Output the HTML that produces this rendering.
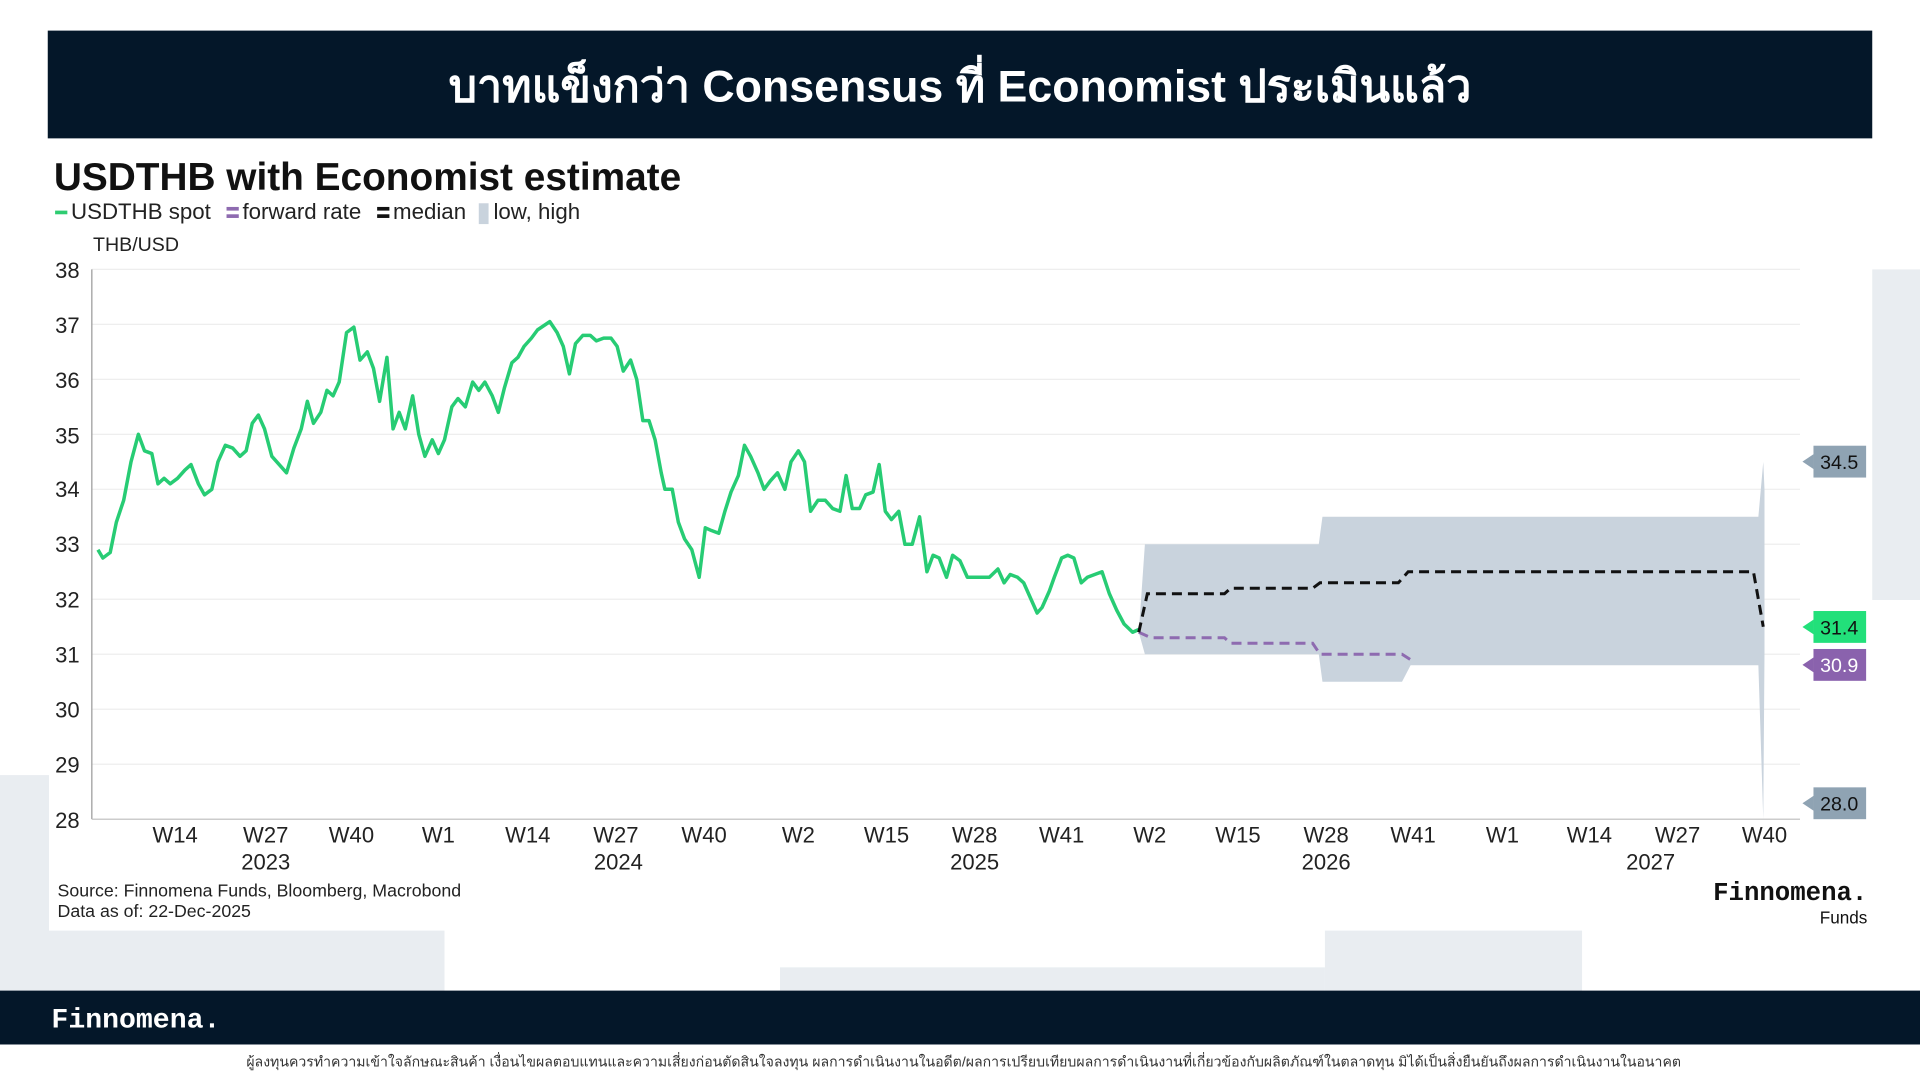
<!DOCTYPE html>
<html><head><meta charset="utf-8"><style>
html,body{margin:0;padding:0;background:#fff;}
svg{display:block;}
text{font-family:"Liberation Sans","Noto Sans CJK SC",sans-serif;}
</style></head><body>
<svg width="1920" height="1080" viewBox="0 0 1568 882" preserveAspectRatio="none" xmlns="http://www.w3.org/2000/svg">
<rect width="1568" height="882" fill="#fff"/>
<rect x="0" y="633" width="40" height="176" fill="#e9edf1"/>
<rect x="0" y="760" width="363" height="49" fill="#e9edf1"/>
<rect x="637" y="790" width="445" height="19" fill="#e9edf1"/>
<rect x="1082" y="760" width="210" height="49" fill="#e9edf1"/>
<rect x="1529" y="220" width="39" height="270" fill="#e9edf1"/>
<rect x="39" y="25" width="1490" height="88" fill="#041729"/>
<text x="784" y="83" text-anchor="middle" fill="#fff" font-size="36.5" font-weight="bold">บาทแข็งกว่า Consensus ที่ Economist ประเมินแล้ว</text>
<text x="44" y="155" font-size="31.7" font-weight="bold" fill="#111">USDTHB with Economist estimate</text>
<rect x="45" y="172" width="10" height="3" fill="#2ecc71"/>
<text x="58" y="179" font-size="18.2" fill="#222">USDTHB spot</text>
<rect x="185" y="169" width="10" height="3" fill="#8e6bb0"/><rect x="185" y="175" width="10" height="3" fill="#8e6bb0"/>
<text x="198" y="179" font-size="18.2" fill="#222">forward rate</text>
<rect x="308" y="169" width="10" height="3" fill="#111"/><rect x="308" y="175" width="10" height="3" fill="#111"/>
<text x="321" y="179" font-size="18.2" fill="#222">median</text>
<rect x="391" y="166" width="8" height="17" fill="#c9d3dd"/>
<text x="403" y="179" font-size="18.2" fill="#222">low, high</text>
<text x="76" y="205" font-size="16" fill="#222">THB/USD</text>
<g stroke="#eeeeee" stroke-width="1">
<line x1="75" x2="1470" y1="220" y2="220"/><line x1="75" x2="1470" y1="264.9" y2="264.9"/><line x1="75" x2="1470" y1="309.8" y2="309.8"/><line x1="75" x2="1470" y1="354.7" y2="354.7"/><line x1="75" x2="1470" y1="399.6" y2="399.6"/><line x1="75" x2="1470" y1="444.5" y2="444.5"/><line x1="75" x2="1470" y1="489.4" y2="489.4"/><line x1="75" x2="1470" y1="534.3" y2="534.3"/><line x1="75" x2="1470" y1="579.2" y2="579.2"/><line x1="75" x2="1470" y1="624.1" y2="624.1"/>
</g>
<line x1="75" x2="75" y1="220" y2="669" stroke="#999"/>
<line x1="75" x2="1470" y1="669" y2="669" stroke="#bbb"/>
<g font-size="18" fill="#222" text-anchor="end">
<text x="65" y="227">38</text><text x="65" y="272">37</text><text x="65" y="317">36</text><text x="65" y="362">35</text><text x="65" y="406">34</text><text x="65" y="451">33</text><text x="65" y="496">32</text><text x="65" y="541">31</text><text x="65" y="586">30</text><text x="65" y="631">29</text><text x="65" y="676">28</text>
</g>
<g font-size="18" fill="#222" text-anchor="middle">
<text x="143" y="688">W14</text><text x="217" y="688">W27</text><text x="287" y="688">W40</text><text x="358" y="688">W1</text><text x="431" y="688">W14</text><text x="503" y="688">W27</text><text x="575" y="688">W40</text><text x="652" y="688">W2</text><text x="724" y="688">W15</text><text x="796" y="688">W28</text><text x="867" y="688">W41</text><text x="939" y="688">W2</text><text x="1011" y="688">W15</text><text x="1083" y="688">W28</text><text x="1154" y="688">W41</text><text x="1227" y="688">W1</text><text x="1298" y="688">W14</text><text x="1370" y="688">W27</text><text x="1441" y="688">W40</text>
<text x="217" y="710">2023</text><text x="505" y="710">2024</text><text x="796" y="710">2025</text><text x="1083" y="710">2026</text><text x="1348" y="710">2027</text>
</g>
<g transform="translate(0,220) scale(1,-44.9) translate(0,-38)">
<polygon fill="#c9d3dd" points="930,31.4 935,31 1077,31 1080,30.5 1145,30.5 1152,30.8 1436,30.8 1440,28 1441,31 1441,34 1440,34.5 1436,33.5 1080,33.5 1077,33 935,33"/>
<polyline fill="none" stroke="#27cc74" stroke-width="3.5" vector-effect="non-scaling-stroke" stroke-linejoin="round" points="80,32.9 84,32.75 90,32.85 95,33.4 101,33.8 107,34.5 113,35.0 118,34.7 124,34.65 129,34.1 134,34.2 139,34.1 145,34.2 151,34.35 156,34.45 162,34.1 167,33.9 173,34.0 178,34.5 184,34.8 190,34.75 196,34.6 201,34.7 206,35.2 211,35.35 216,35.1 222,34.6 228,34.45 234,34.3 240,34.75 246,35.1 251,35.6 256,35.2 262,35.4 267,35.8 272,35.7 277,35.95 283,36.85 289,36.95 294,36.35 300,36.5 305,36.2 310,35.6 316,36.4 321,35.1 326,35.4 331,35.1 337,35.7 342,35.0 347,34.6 353,34.9 358,34.65 363,34.9 369,35.5 374,35.65 380,35.5 386,35.95 391,35.8 396,35.95 402,35.7 407,35.4 412,35.85 418,36.3 423,36.4 428,36.6 434,36.75 439,36.9 449,37.05 455,36.85 460,36.6 465,36.1 470,36.65 476,36.8 482,36.8 487,36.7 493,36.75 499,36.75 504,36.6 509,36.15 515,36.35 520,36.0 525,35.25 530,35.25 535,34.9 540,34.3 543,34.0 549,34.0 554,33.4 559,33.1 565,32.9 571,32.4 576,33.3 581,33.25 587,33.2 592,33.6 597,33.95 603,34.25 608,34.8 613,34.6 619,34.3 624,34.0 629,34.15 635,34.3 641,34.0 646,34.5 652,34.7 657,34.5 662,33.6 668,33.8 674,33.8 680,33.65 686,33.6 691,34.25 696,33.65 702,33.65 707,33.9 713,33.95 718,34.45 723,33.6 728,33.45 734,33.6 739,33.0 745,33.0 751,33.5 757,32.5 762,32.8 767,32.75 773,32.4 778,32.8 784,32.7 790,32.4 801,32.4 808,32.4 815,32.55 820,32.3 825,32.45 831,32.4 836,32.3 842,32.0 847,31.75 851,31.85 857,32.15 861,32.4 867,32.75 872,32.8 877,32.75 883,32.3 888,32.4 894,32.45 900,32.5 906,32.1 912,31.8 918,31.55 925,31.4 930,31.45"/>
<polyline fill="none" stroke="#8e6bb0" stroke-width="3" stroke-dasharray="10,6" vector-effect="non-scaling-stroke" points="930,31.4 940,31.3 1000,31.3 1005,31.2 1072,31.2 1078,31.0 1145,31.0 1152,30.9"/>
<polyline fill="none" stroke="#111" stroke-width="3" stroke-dasharray="10,6" vector-effect="non-scaling-stroke" points="930,31.4 937,32.1 1000,32.1 1005,32.2 1072,32.2 1078,32.3 1142,32.3 1150,32.5 1432,32.5 1440,31.5"/>
</g>
<g font-size="16" text-anchor="middle">
<polygon points="1472,377 1481,371 1481,383" fill="#8fa3b3"/><rect x="1481" y="364" width="43" height="26" fill="#8fa3b3"/><text x="1502" y="383" fill="#111">34.5</text>
<polygon points="1472,512 1481,506 1481,518" fill="#22e07a"/><rect x="1481" y="499" width="43" height="26" fill="#22e07a"/><text x="1502" y="518" fill="#111">31.4</text>
<polygon points="1472,543 1481,537 1481,549" fill="#8a62ad"/><rect x="1481" y="530" width="43" height="26" fill="#8a62ad"/><text x="1502" y="549" fill="#fff">30.9</text>
<polygon points="1472,656 1481,650 1481,662" fill="#8fa3b3"/><rect x="1481" y="643" width="43" height="26" fill="#8fa3b3"/><text x="1502" y="662" fill="#111">28.0</text>
</g>
<text x="47" y="732" font-size="14.5" fill="#222">Source: Finnomena Funds, Bloomberg, Macrobond</text>
<text x="47" y="749" font-size="14.5" fill="#222">Data as of: 22-Dec-2025</text>
<text x="1525" y="735" text-anchor="end" font-size="21" fill="#111" style="font-family:'Liberation Mono',monospace;font-weight:bold">Finnomena.</text>
<text x="1525" y="754" text-anchor="end" font-size="14" fill="#111">Funds</text>
<rect x="0" y="809" width="1568" height="44" fill="#041729"/>
<text x="42" y="839" font-size="23" fill="#fff" style="font-family:'Liberation Mono',monospace;font-weight:bold">Finnomena.</text>
<text x="787" y="871" text-anchor="middle" font-size="11.5" fill="#333">ผู้ลงทุนควรทำความเข้าใจลักษณะสินค้า เงื่อนไขผลตอบแทนและความเสี่ยงก่อนตัดสินใจลงทุน ผลการดำเนินงานในอดีต/ผลการเปรียบเทียบผลการดำเนินงานที่เกี่ยวข้องกับผลิตภัณฑ์ในตลาดทุน มิได้เป็นสิ่งยืนยันถึงผลการดำเนินงานในอนาคต</text>
</svg>
</body></html>
